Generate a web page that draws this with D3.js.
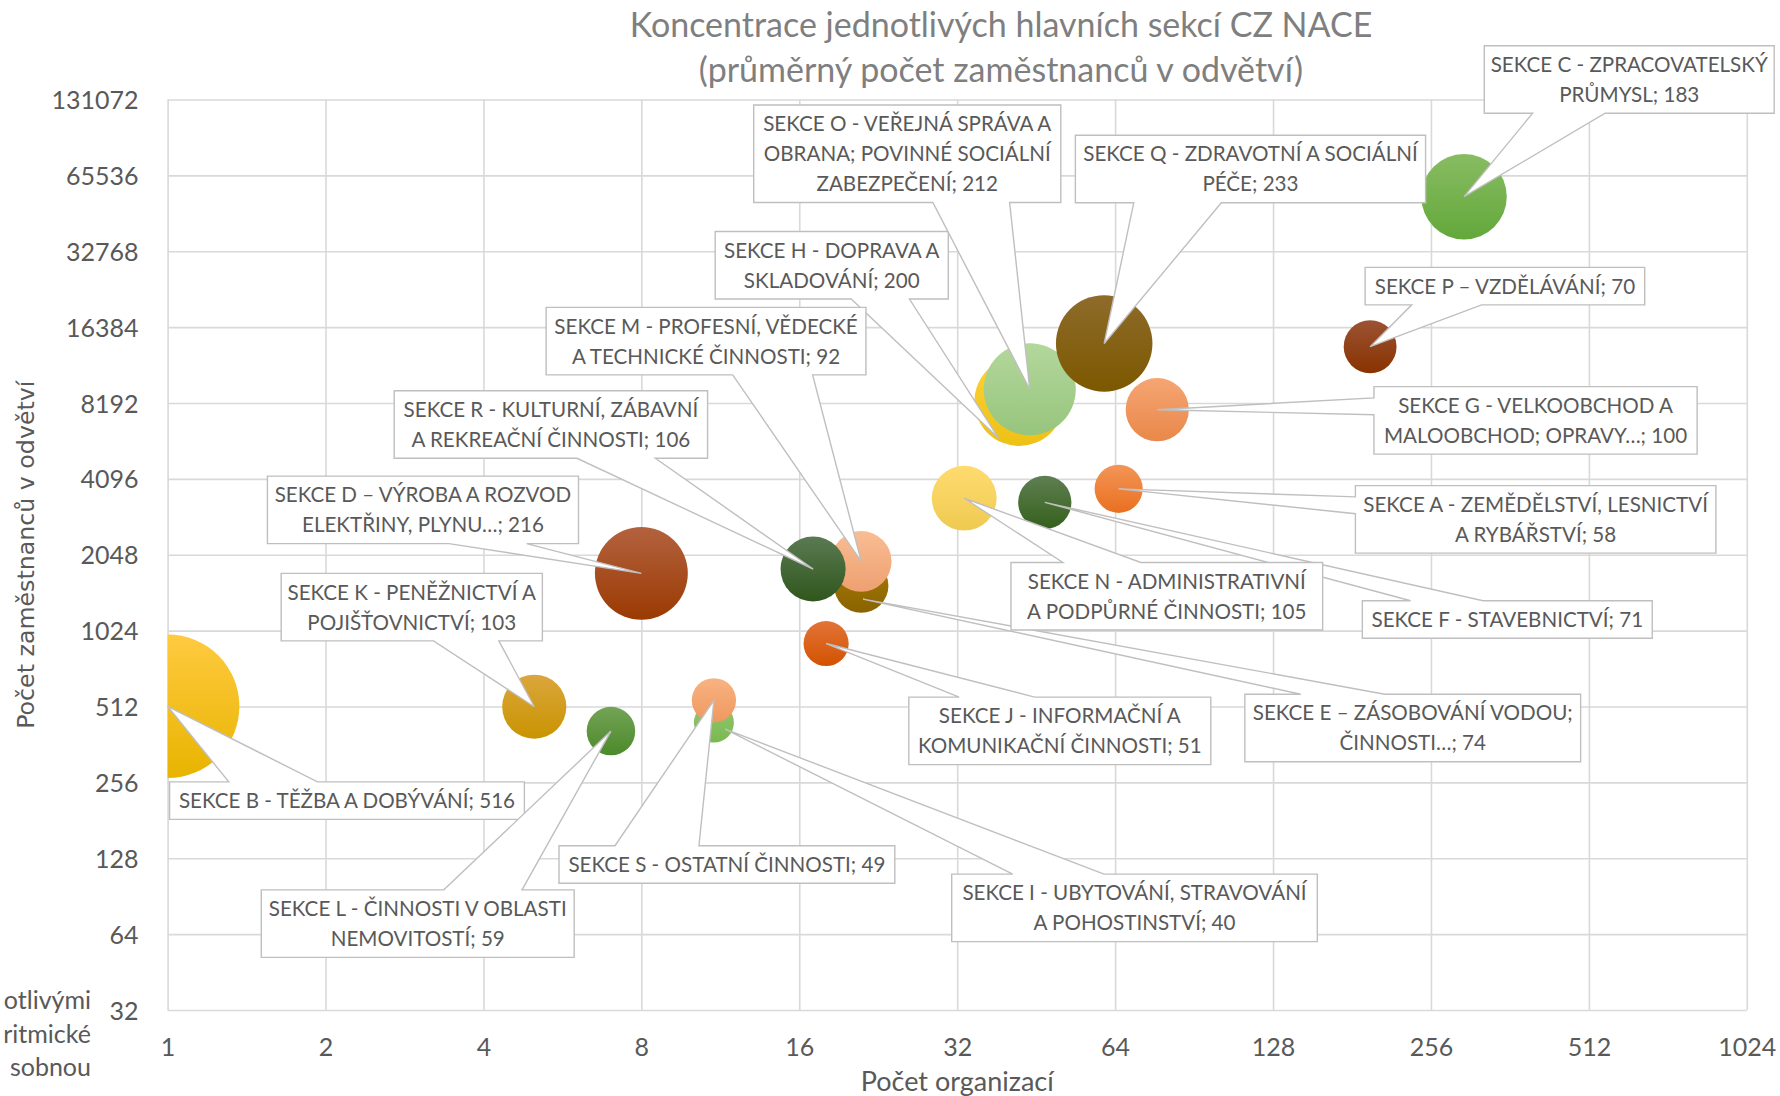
<!DOCTYPE html>
<html>
<head>
<meta charset="utf-8">
<script src="https://cdn.jsdelivr.net/npm/d3@7"></script>
<style>
  body { margin: 0; background: #fff; }
  svg { display: block; }
</style>
</head>
<body>
<svg id="chart" width="1780" height="1096"></svg>
<script>
// ---- data -------------------------------------------------------------
const sections = ["A","B","C","D","E","F","G","H","I","J","K","L","M","N","O","P","Q","R","S"];

const sectionNames = [
  ["SEKCE A - ZEMĚDĚLSTVÍ, LESNICTVÍ", "A RYBÁŘSTVÍ"],
  ["SEKCE B - TĚŽBA A DOBÝVÁNÍ"],
  ["SEKCE C - ZPRACOVATELSKÝ", "PRŮMYSL"],
  ["SEKCE D – VÝROBA A ROZVOD", "ELEKTŘINY, PLYNU…"],
  ["SEKCE E – ZÁSOBOVÁNÍ VODOU;", "ČINNOSTI…"],
  ["SEKCE F - STAVEBNICTVÍ"],
  ["SEKCE G - VELKOOBCHOD A", "MALOOBCHOD; OPRAVY…"],
  ["SEKCE H - DOPRAVA A", "SKLADOVÁNÍ"],
  ["SEKCE I - UBYTOVÁNÍ, STRAVOVÁNÍ", "A POHOSTINSTVÍ"],
  ["SEKCE J - INFORMAČNÍ A", "KOMUNIKAČNÍ ČINNOSTI"],
  ["SEKCE K - PENĚŽNICTVÍ A", "POJIŠŤOVNICTVÍ"],
  ["SEKCE L - ČINNOSTI V OBLASTI", "NEMOVITOSTÍ"],
  ["SEKCE M - PROFESNÍ, VĚDECKÉ", "A TECHNICKÉ ČINNOSTI"],
  ["SEKCE N - ADMINISTRATIVNÍ", "A PODPŮRNÉ ČINNOSTI"],
  ["SEKCE O - VEŘEJNÁ SPRÁVA A", "OBRANA; POVINNÉ SOCIÁLNÍ", "ZABEZPEČENÍ"],
  ["SEKCE P – VZDĚLÁVÁNÍ"],
  ["SEKCE Q - ZDRAVOTNÍ A SOCIÁLNÍ", "PÉČE"],
  ["SEKCE R - KULTURNÍ, ZÁBAVNÍ", "A REKREAČNÍ ČINNOSTI"],
  ["SEKCE S - OSTATNÍ ČINNOSTI"]
];

// počet organizací (x)
const organizationCounts = [65, 1, 296, 8, 21, 47, 77, 42, 11, 18, 5, 7, 21, 33, 44, 196, 61, 17, 11];
// průměrný počet zaměstnanců (y)
const avgEmployees = [3740, 513, 53950, 1728, 1544, 3306, 7706, 8320, 442, 910, 511, 409, 1927, 3432, 9287, 13700, 14115, 1798, 542];
// velikost bubliny (hodnota v popisku)
const bubbleSizes = [58, 516, 183, 216, 74, 71, 100, 200, 40, 51, 103, 59, 92, 105, 212, 70, 233, 106, 49];

const xTickValues = [1, 2, 4, 8, 16, 32, 64, 128, 256, 512, 1024];
const yTickValues = [32, 64, 128, 256, 512, 1024, 2048, 4096, 8192, 16384, 32768, 65536, 131072];

// ---- styles -----------------------------------------------------------
const colorTop = ["#f39558","#ffca40","#88bc62","#b3623f","#a87c06","#5f7f52","#f5a573","#fdd236","#93c873","#e37338","#dba63c","#74a356","#f9bd93","#ffdb70","#b3d79c","#9c5233","#8e6b2a","#5a7a52","#f8b382"];
const colorBottom = ["#e9701f","#e8b400","#63a83b","#9b3a02","#8a6300","#35601c","#e9884a","#eec116","#79b94f","#d25300","#c99400","#4b8a2a","#eea070","#efca50","#97c57d","#883300","#7c5800","#30561c","#ef985f"];

// label placement: box centre offset from the bubble, box width, leader tip offset
const labelLayout = [
  {dx: 417, dy: 30.5, w: 360.5},
  {dx: 179.4, dy: 94.3, w: 354.8},
  {dx: 165.2, dy: -117.2, w: 289.9},
  {dx: -218.4, dy: -63.5, w: 311.1},
  {dx: 551.5, dy: 142.3, w: 335.8, tx: 1.8, ty: 13.4},
  {dx: 462.5, dy: 117.2, w: 289.9},
  {dx: 378.3, dy: 10.7, w: 323.2},
  {dx: -187.4, dy: -136, w: 233.1, tx: -20.4, ty: 37},
  {dx: 420.6, dy: 185.3, w: 365.6, tx: 11.3, ty: 6.6},
  {dx: 233.7, dy: 87.3, w: 302},
  {dx: -122.5, dy: -99.6, w: 261.2},
  {dx: -193.2, dy: 192.5, w: 312.9},
  {dx: -155.2, dy: -220.3, w: 319.8},
  {dx: 202.6, dy: 98, w: 311.7},
  {dx: -122.5, dy: -235.5, w: 307.1},
  {dx: 134.8, dy: -60.6, w: 279.6},
  {dx: 146.3, dy: -174.4, w: 350.2},
  {dx: -262.2, dy: -144.5, w: 313.4},
  {dx: 13, dy: 164.2, w: 335.8}
];

const FONT = "Lato, 'Liberation Sans', Arial, sans-serif";
const TEXT = "#595959";
const GRID = "#d9d9d9";
const LINE_H = 30;

// ---- layout -----------------------------------------------------------
const plot = {left: 167.6, right: 1746.8, top: 99.5, bottom: 1010};

const svg = d3.select("#chart");

const x = d3.scaleLog().base(2).domain([1, 1024]).range([plot.left, plot.right]);
const y = d3.scaleLog().base(2).domain([32, 131072]).range([plot.bottom, plot.top]);
const r = d3.scaleSqrt().domain([0, 516]).range([0, 71.8]);

const points = sections.map((s, i) => ({
  id: s,
  name: sectionNames[i],
  x: organizationCounts[i],
  y: avgEmployees[i],
  size: bubbleSizes[i],
  top: colorTop[i],
  bottom: colorBottom[i],
  layout: labelLayout[i]
}));

// gradients
const defs = svg.append("defs");
points.forEach(p => {
  const g = defs.append("linearGradient")
    .attr("id", "grad-" + p.id)
    .attr("x1", 0).attr("y1", 0).attr("x2", 0).attr("y2", 1);
  g.append("stop").attr("offset", "0%").attr("stop-color", p.top);
  g.append("stop").attr("offset", "100%").attr("stop-color", p.bottom);
});
defs.append("clipPath").attr("id", "plot-clip")
  .append("rect")
  .attr("x", plot.left).attr("y", plot.top)
  .attr("width", plot.right - plot.left).attr("height", plot.bottom - plot.top);

// title
const title = svg.append("text")
  .attr("x", 1001).attr("text-anchor", "middle")
  .attr("font-family", FONT).attr("font-size", 34).attr("fill", "#7f7f7f");
title.append("tspan").attr("x", 1001).attr("y", 37).text("Koncentrace jednotlivých hlavních sekcí CZ NACE");
title.append("tspan").attr("x", 1001).attr("y", 82).text("(průměrný počet zaměstnanců v odvětví)");

// gridlines
const xGrid = svg.append("g")
  .attr("transform", `translate(0,${plot.bottom})`)
  .call(d3.axisBottom(x).tickValues(xTickValues).tickSize(-(plot.bottom - plot.top)).tickFormat(""));
const yGrid = svg.append("g")
  .attr("transform", `translate(${plot.left},0)`)
  .call(d3.axisLeft(y).tickValues(yTickValues).tickSize(-(plot.right - plot.left)).tickFormat(""));
[xGrid, yGrid].forEach(g => {
  g.select(".domain").remove();
  g.selectAll(".tick line").attr("stroke", GRID).attr("stroke-width", 1.6);
});

// tick labels
const xAxis = svg.append("g")
  .attr("transform", `translate(0,${plot.bottom})`)
  .call(d3.axisBottom(x).tickValues(xTickValues).tickSize(0).tickPadding(28).tickFormat(d3.format("d")));
const yAxis = svg.append("g")
  .attr("transform", `translate(${plot.left},0)`)
  .call(d3.axisLeft(y).tickValues(yTickValues).tickSize(0).tickPadding(29).tickFormat(d3.format("d")));
[xAxis, yAxis].forEach(g => {
  g.select(".domain").remove();
  g.selectAll(".tick text")
    .attr("font-family", FONT).attr("font-size", 25).attr("fill", TEXT);
});
xAxis.selectAll(".tick text").attr("dy", "0.71em");
yAxis.selectAll(".tick text").attr("dy", "0.36em");

// axis titles
svg.append("text")
  .attr("x", (plot.left + plot.right) / 2).attr("y", 1091)
  .attr("text-anchor", "middle")
  .attr("font-family", FONT).attr("font-size", 27).attr("fill", TEXT)
  .text("Počet organizací");
svg.append("text")
  .attr("transform", `translate(33.5,${(plot.top + plot.bottom) / 2}) rotate(-90)`)
  .attr("text-anchor", "middle")
  .attr("font-family", "'DejaVu Sans', Verdana, sans-serif").attr("font-size", 23.7).attr("fill", TEXT)
  .text("Počet zaměstnanců v odvětví");

// side note in the lower left corner
const note = svg.append("text")
  .attr("text-anchor", "end")
  .attr("font-family", FONT).attr("font-size", 25).attr("fill", TEXT);
[["otlivými", 1009], ["ritmické", 1043], ["sobnou", 1076]].forEach(([t, yy]) => {
  note.append("tspan").attr("x", 91).attr("y", yy).text(t);
});

// bubbles (drawn in series order, later ones on top)
svg.append("g").attr("clip-path", "url(#plot-clip)")
  .selectAll("circle")
  .data(points)
  .join("circle")
  .attr("cx", d => x(d.x))
  .attr("cy", d => y(d.y))
  .attr("r", d => r(d.size))
  .attr("fill", d => `url(#grad-${d.id})`);

// callout shape with a wedge pointing at (tx, ty)
function calloutPath(l, t, w, h, tx, ty) {
  const rr = l + w, b = t + h, hc = l + w / 2, vc = t + h / 2;
  const dxPos = tx - hc, dyPos = ty - vc;
  const dq = dxPos * h / w;
  const dz = Math.abs(dyPos) - Math.abs(dq);
  const x1 = l + w * (dxPos > 0 ? 7 : 2) / 12, x2 = l + w * (dxPos > 0 ? 10 : 5) / 12;
  const y1 = t + h * (dyPos > 0 ? 7 : 2) / 12, y2 = t + h * (dyPos > 0 ? 10 : 5) / 12;
  const p = d3.path();
  p.moveTo(l, t);
  if (dz > 0 && dyPos < 0) { p.lineTo(x1, t); p.lineTo(tx, ty); p.lineTo(x2, t); }
  p.lineTo(rr, t);
  if (dz <= 0 && dxPos > 0) { p.lineTo(rr, y1); p.lineTo(tx, ty); p.lineTo(rr, y2); }
  p.lineTo(rr, b);
  if (dz > 0 && dyPos > 0) { p.lineTo(x2, b); p.lineTo(tx, ty); p.lineTo(x1, b); }
  p.lineTo(l, b);
  if (dz <= 0 && dxPos < 0) { p.lineTo(l, y2); p.lineTo(tx, ty); p.lineTo(l, y1); }
  p.closePath();
  return p.toString();
}

// data labels
const labels = svg.append("g").selectAll("g")
  .data(points)
  .join("g");

labels.each(function(d) {
  const g = d3.select(this);
  const lines = d.name.slice();
  lines[lines.length - 1] = lines[lines.length - 1] + "; " + d.size;
  const cx = x(d.x), cy = y(d.y);
  const L = d.layout;
  const h = lines.length * LINE_H + 7.5;
  const bx = cx + L.dx - L.w / 2, by = cy + L.dy - h / 2;
  const tipX = cx + (L.tx || 0), tipY = cy + (L.ty || 0);
  g.append("path")
    .attr("d", calloutPath(bx, by, L.w, h, tipX, tipY))
    .attr("fill", "#fff")
    .attr("stroke", "#bfbfbf")
    .attr("stroke-width", 1.4)
    .attr("stroke-linejoin", "miter");
  const text = g.append("text")
    .attr("text-anchor", "middle")
    .attr("font-family", FONT).attr("font-size", 20.6).attr("fill", TEXT);
  lines.forEach((ln, i) => {
    text.append("tspan")
      .attr("x", bx + L.w / 2)
      .attr("y", by + h / 2 + (i - (lines.length - 1) / 2) * LINE_H + 7.4)
      .text(ln);
  });
});
</script>
</body>
</html>
